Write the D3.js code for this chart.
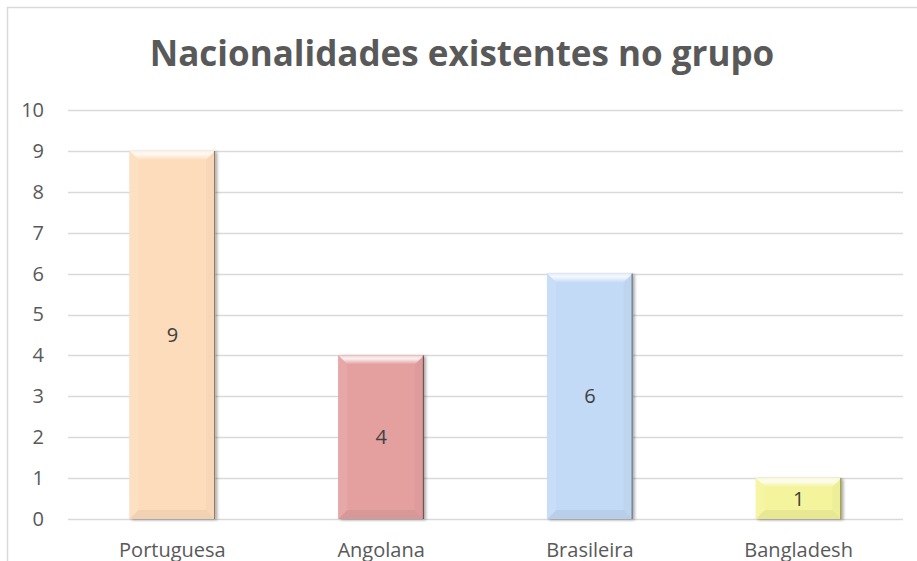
<!DOCTYPE html>
<html lang="pt">
<head>
<meta charset="UTF-8">
<script src="https://d3js.org/d3.v7.min.js"></script>
<title>Nacionalidades</title>
<style>
  body { margin: 0; background: #fff; }
  svg { display: block; font-family: "Open Sans", "Liberation Sans", sans-serif; }
</style>
</head>
<body>
<svg width="917" height="561"></svg>
<script>
// dados
const categories = ['Portuguesa', 'Angolana', 'Brasileira', 'Bangladesh'];
const values = [9, 4, 6, 1];
const barColors = ['#FDDCBC', '#E3A09F', '#C3DAF6', '#F4F49C'];
const yTicks = [0, 1, 2, 3, 4, 5, 6, 7, 8, 9, 10];
const title = 'Nacionalidades existentes no grupo';

const svg = d3.select('svg');

// moldura do gráfico (cortada à direita e em baixo)
svg.append('rect')
  .attr('x', 7.5).attr('y', 7.5)
  .attr('width', 930).attr('height', 600)
  .attr('fill', '#fff').attr('stroke', '#d9d9d9').attr('stroke-width', 1.5);

const plotLeft = 68, plotRight = 903, plotTop = 110, plotBottom = 519;

const x = d3.scaleBand().domain(categories).range([plotLeft, plotRight]).paddingInner(0.59).paddingOuter(0.295);
const y = d3.scaleLinear().domain([0, 10]).range([plotBottom, plotTop]);

// grelha
svg.append('g')
  .selectAll('line')
  .data(yTicks)
  .enter().append('line')
  .attr('x1', plotLeft).attr('x2', plotRight)
  .attr('y1', d => Math.round(y(d)) + 0.5).attr('y2', d => Math.round(y(d)) + 0.5)
  .attr('stroke', '#d9d9d9').attr('stroke-width', 1.5);

// eixo y
const yAxis = svg.append('g')
  .attr('transform', `translate(${plotLeft},0)`)
  .call(d3.axisLeft(y).tickValues(yTicks).tickSize(0).tickPadding(24));
yAxis.select('.domain').remove();
yAxis.selectAll('text')
  .attr('fill', '#595959').style('font-size', '20px')
  .style('font-family', '"Open Sans", sans-serif');

// eixo x
const xAxis = svg.append('g')
  .attr('transform', `translate(0,${plotBottom})`)
  .call(d3.axisBottom(x).tickSize(0).tickPadding(24));
xAxis.select('.domain').remove();
xAxis.selectAll('text')
  .attr('fill', '#595959').style('font-size', '20px')
  .style('font-family', '"Open Sans", sans-serif');

// sombra
const defs = svg.append('defs');
const f = defs.append('filter').attr('id', 'shadow').attr('x', '-20%').attr('y', '-20%').attr('width', '140%').attr('height', '140%');
f.append('feDropShadow').attr('dx', 2).attr('dy', 1).attr('stdDeviation', 1.5)
  .attr('flood-color', '#000').attr('flood-opacity', 0.35);

const data = categories.map((c, i) => ({ c, v: values[i], col: barColors[i], i }));

// gradientes do bisel de cima
data.forEach(d => {
  const g = defs.append('linearGradient').attr('id', 'top' + d.i)
    .attr('x1', 0).attr('y1', 0).attr('x2', 0).attr('y2', 1);
  g.append('stop').attr('offset', 0).attr('stop-color', d3.interpolateRgb(d.col, '#ffffff')(0.5));
  g.append('stop').attr('offset', 0.35).attr('stop-color', d3.interpolateRgb(d.col, '#ffffff')(0.85));
  g.append('stop').attr('offset', 1).attr('stop-color', d.col);
});

// barras com efeito biselado
const bars = svg.append('g')
  .selectAll('g')
  .data(data)
  .enter().append('g');

const b = 9;
bars.append('rect')
  .attr('x', d => x(d.c)).attr('y', d => y(d.v))
  .attr('width', x.bandwidth()).attr('height', d => y(0) - y(d.v))
  .attr('fill', d => d.col)
  .attr('filter', 'url(#shadow)');

// bisel de cima (claro)
bars.append('polygon')
  .attr('points', d => {
    const x0 = x(d.c), x1 = x0 + x.bandwidth(), y0 = y(d.v);
    return [[x0, y0], [x1, y0], [x1 - b, y0 + b], [x0 + b, y0 + b]].join(' ');
  })
  .attr('fill', d => `url(#top${d.i})`);

// bisel de baixo (escuro)
bars.append('polygon')
  .attr('points', d => {
    const x0 = x(d.c), x1 = x0 + x.bandwidth(), y1 = y(0);
    return [[x0, y1], [x1, y1], [x1 - b, y1 - b], [x0 + b, y1 - b]].join(' ');
  })
  .attr('fill', d => d3.color(d.col).darker(0.15));

// lado direito (ligeiramente escuro)
bars.append('polygon')
  .attr('points', d => {
    const x0 = x(d.c), x1 = x0 + x.bandwidth(), y0 = y(d.v), y1 = y(0);
    return [[x1, y0], [x1, y1], [x1 - b, y1 - b], [x1 - b, y0 + b]].join(' ');
  })
  .attr('fill', d => d3.color(d.col).darker(0.07));

// lado esquerdo (ligeiramente claro)
bars.append('polygon')
  .attr('points', d => {
    const x0 = x(d.c), y0 = y(d.v), y1 = y(0);
    return [[x0, y0], [x0, y1], [x0 + b, y1 - b], [x0 + b, y0 + b]].join(' ');
  })
  .attr('fill', d => d3.interpolateRgb(d.col, '#ffffff')(0.08));

// contorno direito escuro
bars.append('line')
  .attr('x1', d => x(d.c) + x.bandwidth() - 0.5).attr('x2', d => x(d.c) + x.bandwidth() - 0.5)
  .attr('y1', d => y(d.v)).attr('y2', d => y(0))
  .attr('stroke', d => d3.color(d.col).darker(1.8)).attr('stroke-width', 1.2);

// rótulos de valor
bars.append('text')
  .attr('x', d => x(d.c) + x.bandwidth() / 2)
  .attr('y', d => (y(d.v) + y(0)) / 2)
  .attr('dy', '0.35em')
  .attr('text-anchor', 'middle')
  .attr('fill', '#404040')
  .style('font-size', '20px')
  .text(d => d.v);

// título
const t = svg.append('text')
  .attr('x', 462).attr('y', 66)
  .attr('text-anchor', 'middle')
  .attr('fill', '#595959')
  .style('font-weight', 'bold')
  .style('font-size', '32px')
  .text(title);
const tw = t.node().getComputedTextLength();
t.style('font-size', (32 * 625 / tw).toFixed(1) + 'px');
</script>
</body>
</html>
